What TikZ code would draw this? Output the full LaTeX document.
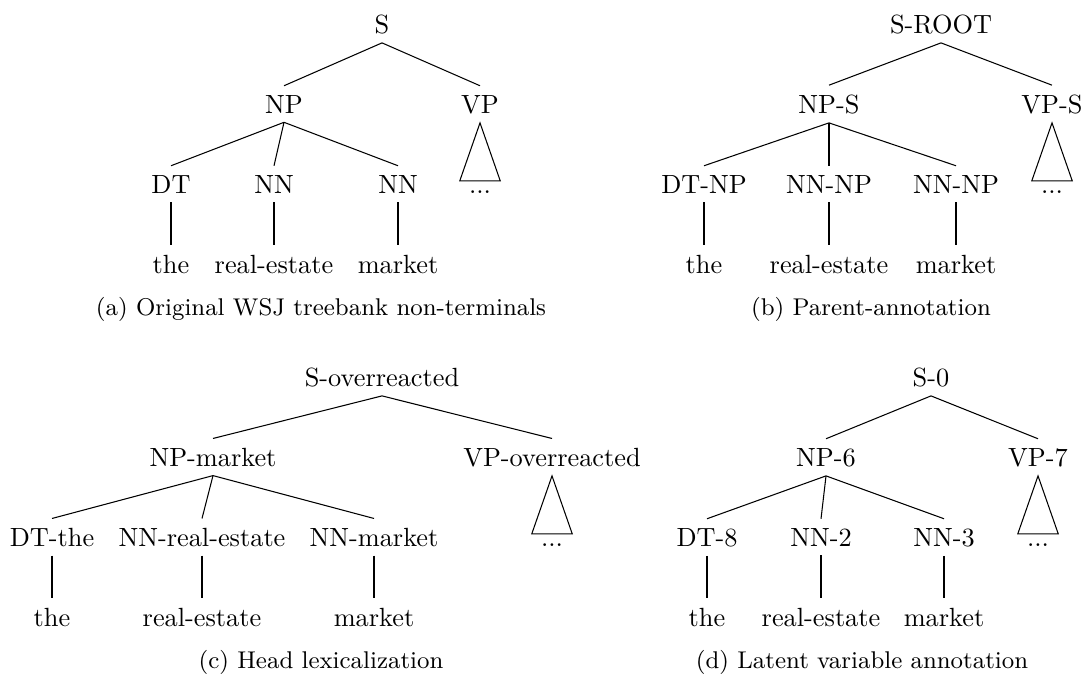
\documentclass[tikz,border=0pt]{standalone}
\begin{document}
\begin{tikzpicture}[x=0.38pt,y=-0.38pt,
  lbl/.style={anchor=base,inner sep=3.33pt,font=\fontsize{10}{12}\selectfont},
  subcap/.style={anchor=base,inner sep=0pt,font=\fontsize{9.2}{11}\selectfont},
  edge/.style={draw=black,line width=0.4pt},
  roof/.style={draw=black,line width=0.4pt,line join=miter}]
\useasboundingbox (0,0) rectangle (1085,675);

% ---------- (a) original treebank labels ----------
\node[lbl] (aS)   at (382,33)  {S};
\node[lbl] (aNP)  at (284,113) {NP};
\node[lbl] (aVP)  at (480,113) {VP};
\node[lbl] (aDT)  at (171,193) {DT};
\node[lbl] (aNNa) at (274,193) {NN};
\node[lbl] (aNNb) at (398,193) {NN};
\node[lbl] (aVd)  at (480,193) {...};
\node[lbl] (aw1)  at (171,273) {the};
\node[lbl] (aw2)  at (274,273) {real-estate};
\node[lbl] (aw3)  at (398,273) {market};
\node[subcap] (acap) at (321,315) {(a) Original WSJ treebank non-terminals};
\draw[edge] (aS.south) -- (aNP.north);
\draw[edge] (aS.south) -- (aVP.north);
\draw[edge] (aNP.south) -- (aDT.north);
\draw[edge] (aNP.south) -- (aNNa.north);
\draw[edge] (aNP.south) -- (aNNb.north);
\draw[edge] (aDT.south) -- (aw1.north);
\draw[edge] (aNNa.south) -- (aw2.north);
\draw[edge] (aNNb.south) -- (aw3.north);
\draw[roof] (aVP.south) -- (aVd.north west) -- (aVd.north east) -- cycle;

% ---------- (b) parent annotation ----------
\node[lbl] (bS)   at (941,33)  {S-ROOT};
\node[lbl] (bNP)  at (829,113) {NP-S};
\node[lbl] (bVP)  at (1052,113) {VP-S};
\node[lbl] (bDT)  at (704,193) {DT-NP};
\node[lbl] (bNNa) at (829,193) {NN-NP};
\node[lbl] (bNNb) at (956,193) {NN-NP};
\node[lbl] (bVd)  at (1052,193) {...};
\node[lbl] (bw1)  at (704,273) {the};
\node[lbl] (bw2)  at (829,273) {real-estate};
\node[lbl] (bw3)  at (956,273) {market};
\node[subcap] (bcap) at (871,315) {(b) Parent-annotation};
\draw[edge] (bS.south) -- (bNP.north);
\draw[edge] (bS.south) -- (bVP.north);
\draw[edge] (bNP.south) -- (bDT.north);
\draw[edge] (bNP.south) -- (bNNa.north);
\draw[edge] (bNP.south) -- (bNNb.north);
\draw[edge] (bDT.south) -- (bw1.north);
\draw[edge] (bNNa.south) -- (bw2.north);
\draw[edge] (bNNb.south) -- (bw3.north);
\draw[roof] (bVP.south) -- (bVd.north west) -- (bVd.north east) -- cycle;

% ---------- (c) head lexicalization ----------
\node[lbl] (cS)   at (382,386) {S-overreacted};
\node[lbl] (cNP)  at (213,466) {NP-market};
\node[lbl] (cVP)  at (552,466) {VP-overreacted};
\node[lbl] (cDT)  at (52,546)  {DT-the};
\node[lbl] (cNNa) at (202,546) {NN-real-estate};
\node[lbl] (cNNb) at (374,546) {NN-market};
\node[lbl] (cVd)  at (552,546) {...};
\node[lbl] (cw1)  at (52,626)  {the};
\node[lbl] (cw2)  at (202,626) {real-estate};
\node[lbl] (cw3)  at (374,626) {market};
\node[subcap] (ccap) at (321,668) {(c) Head lexicalization};
\draw[edge] (cS.south) -- (cNP.north);
\draw[edge] (cS.south) -- (cVP.north);
\draw[edge] (cNP.south) -- (cDT.north);
\draw[edge] (cNP.south) -- (cNNa.north);
\draw[edge] (cNP.south) -- (cNNb.north);
\draw[edge] (cDT.south) -- (cw1.north);
\draw[edge] (cNNa.south) -- (cw2.north);
\draw[edge] (cNNb.south) -- (cw3.north);
\draw[roof] (cVP.south) -- (cVd.north west) -- (cVd.north east) -- cycle;

% ---------- (d) latent variable annotation ----------
\node[lbl] (dS)   at (931,386) {S-0};
\node[lbl] (dNP)  at (826,466) {NP-6};
\node[lbl] (dVP)  at (1038,466) {VP-7};
\node[lbl] (dDT)  at (707,546) {DT-8};
\node[lbl] (dNNa) at (821,546) {NN-2};
\node[lbl] (dNNb) at (944,546) {NN-3};
\node[lbl] (dVd)  at (1038,546) {...};
\node[lbl] (dw1)  at (707,626) {the};
\node[lbl] (dw2)  at (821,626) {real-estate};
\node[lbl] (dw3)  at (944,626) {market};
\node[subcap] (dcap) at (862,668) {(d) Latent variable annotation};
\draw[edge] (dS.south) -- (dNP.north);
\draw[edge] (dS.south) -- (dVP.north);
\draw[edge] (dNP.south) -- (dDT.north);
\draw[edge] (dNP.south) -- (dNNa.north);
\draw[edge] (dNP.south) -- (dNNb.north);
\draw[edge] (dDT.south) -- (dw1.north);
\draw[edge] (dNNa.south) -- (dw2.north);
\draw[edge] (dNNb.south) -- (dw3.north);
\draw[roof] (dVP.south) -- (dVd.north west) -- (dVd.north east) -- cycle;
\end{tikzpicture}
\end{document}
